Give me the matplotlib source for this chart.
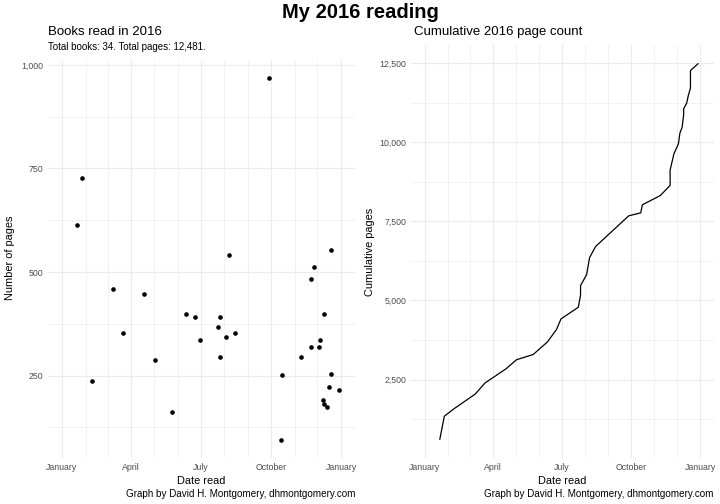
"""My 2016 reading: books read (pages vs date) and cumulative page count."""
import matplotlib

matplotlib.use("Agg")
import matplotlib.dates as mdates  # noqa: E402
import matplotlib.pyplot as plt  # noqa: E402
import numpy as np  # noqa: E402
import pandas as pd  # noqa: E402
from matplotlib.ticker import FixedLocator, StrMethodFormatter  # noqa: E402

plt.rcParams["font.family"] = ["Liberation Sans", "DejaVu Sans"]

# ---------------------------------------------------------------- data
DATES = ["2016-01-21", "2016-01-27", "2016-02-09", "2016-03-08", "2016-03-21",
         "2016-04-18", "2016-05-02", "2016-05-24", "2016-06-12", "2016-06-24",
         "2016-06-30", "2016-07-23", "2016-07-26", "2016-07-26", "2016-08-03",
         "2016-08-07", "2016-08-15", "2016-09-28", "2016-10-14", "2016-10-16",
         "2016-11-09", "2016-11-22", "2016-11-22", "2016-11-27", "2016-12-03",
         "2016-12-05", "2016-12-08", "2016-12-10", "2016-12-10", "2016-12-14",
         "2016-12-16", "2016-12-19", "2016-12-19", "2016-12-29"]
PAGES = [614, 728, 238, 460, 352,
         448, 288, 162, 400, 392,
         335, 368, 391, 295, 343,
         541, 352, 968, 95, 252,
         295, 320, 483, 513, 320,
         335, 191, 400, 182, 175,
         223, 253, 553, 216]
MAJOR_TICKS = ["2016-01-01", "2016-04-01", "2016-07-01", "2016-10-01", "2017-01-01"]
MAJOR_LABELS = ["January", "April", "July", "October", "January"]
LEFT_YTICKS = [250, 500, 750, 1000]
LEFT_YMINOR = [125, 375, 625, 875]
RIGHT_YTICKS = [2500, 5000, 7500, 10000, 12500]
RIGHT_YMINOR = [1250, 3750, 6250, 8750, 11250]

W, H = 720, 504
GRID = "#ebebeb"
TICKCOL = "#4d4d4d"
CAPTION = "Graph by David H. Montgomery, dhmontgomery.com"


def px(x, y):
    return x / W, 1 - y / H


def expand(lo, hi, frac=0.05):
    d = (hi - lo) * frac
    return lo - d, hi + d


def style_axes(ax, yticks, yminor):
    d0 = mdates.date2num(pd.Timestamp("2016-01-01"))
    d1 = mdates.date2num(pd.Timestamp("2017-01-01"))
    ax.set_xlim(*expand(d0, d1))
    ax.xaxis.set_major_locator(FixedLocator(mdates.date2num(pd.to_datetime(MAJOR_TICKS))))
    ax.set_xticklabels(MAJOR_LABELS)
    months = pd.date_range("2016-01-01", "2017-01-01", freq="MS")
    ax.xaxis.set_minor_locator(FixedLocator(mdates.date2num(months)))
    ax.yaxis.set_major_locator(FixedLocator(yticks))
    ax.yaxis.set_minor_locator(FixedLocator(yminor))
    ax.yaxis.set_major_formatter(StrMethodFormatter("{x:,.0f}"))
    ax.grid(True, which="major", color=GRID, lw=0.8)
    ax.grid(True, which="minor", color=GRID, lw=0.45)
    ax.set_axisbelow(True)
    for s in ax.spines.values():
        s.set_visible(False)
    ax.tick_params(which="both", length=0, labelsize=6.3, labelcolor=TICKCOL, pad=3.5)


def main():
    dates = pd.to_datetime(DATES)
    pages = np.array(PAGES)
    cum = np.cumsum(pages)

    fig = plt.figure(figsize=(7.2, 5.04), dpi=100)

    # ---------------------------------------------------------- left: pages per book
    ax1 = fig.add_axes([48 / W, 1 - 458 / H, 307 / W, 398 / H])
    ax1.scatter(dates, pages, s=11, color="black", linewidths=0, zorder=3)
    style_axes(ax1, LEFT_YTICKS, LEFT_YMINOR)
    ax1.set_ylim(*expand(pages.min(), pages.max()))

    # ---------------------------------------------------------- right: cumulative pages
    ax2 = fig.add_axes([411 / W, 1 - 458 / H, 303 / W, 413 / H])
    ax2.plot(dates, cum, color="black", lw=0.9, zorder=3)
    style_axes(ax2, RIGHT_YTICKS, RIGHT_YMINOR)
    ax2.set_ylim(*expand(cum.min(), cum.max()))

    # ---------------------------------------------------------- text
    fig.text(*px(360, 13), "My 2016 reading", ha="center", va="center",
             fontsize=14.5, fontweight="bold")
    fig.text(*px(48, 32), "Books read in 2016", ha="left", va="center", fontsize=9.5)
    fig.text(*px(48, 47), f"Total books: {len(pages)}. Total pages: {cum[-1]:,}.",
             ha="left", va="center", fontsize=7.0)
    fig.text(*px(414, 32), "Cumulative 2016 page count", ha="left", va="center", fontsize=9.5)

    for x0, x1, ylab in ((48, 355, "Number of pages"), (411, 714, "Cumulative pages")):
        fig.text(*px((x0 + x1) / 2, 481), "Date read", ha="center", va="center", fontsize=7.9)
        fig.text(*px(x1, 494), CAPTION, ha="right", va="center", fontsize=7.1)
    fig.text(*px(10, 258), "Number of pages", rotation=90, ha="center", va="center",
             fontsize=7.9)
    fig.text(*px(370, 252), "Cumulative pages", rotation=90, ha="center", va="center",
             fontsize=7.9)

    fig.savefig("out.png", dpi=100, facecolor="white")
    plt.close(fig)


if __name__ == "__main__":
    main()
